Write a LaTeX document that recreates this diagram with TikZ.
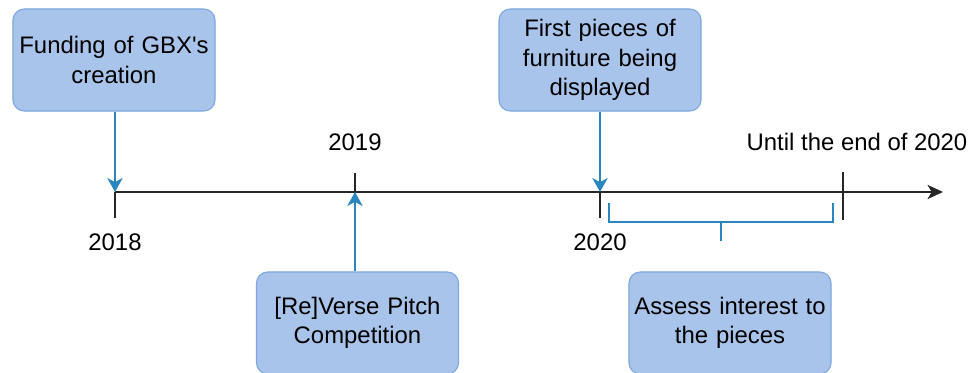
\documentclass[tikz,border=0pt]{standalone}
\usepackage{fontspec}
\setmainfont{Liberation Sans}
\usetikzlibrary{arrows.meta}
\definecolor{boxfill}{HTML}{A9C4EB}
\definecolor{boxline}{HTML}{7EA6E0}
\definecolor{linkblue}{HTML}{2A86BF}
\tikzset{
  event/.style={draw=boxline,fill=boxfill,line width=0.8pt,rounded corners=8pt,
    minimum width=5.05cm,minimum height=2.55cm,text width=4.9cm,align=center,
    font=\fontsize{17}{21}\selectfont,inner sep=0pt},
  link/.style={draw=linkblue,line width=1pt,-{Stealth[length=10pt,width=11pt,inset=3pt]}},
  year/.style={font=\fontsize{17}{21}\selectfont,inner sep=0pt},
  axis/.style={line width=1.4pt,black!85}
}
\begin{document}
\begin{tikzpicture}[x=0.025cm,y=-0.025cm]
\useasboundingbox (0,0) rectangle (973,373);
\coordinate (t18) at (115,192);
\coordinate (t19) at (355,192);
\coordinate (t20) at (600,192);
\coordinate (tend) at (843,192);
\draw[axis,-{Stealth[length=11pt,width=10pt,inset=3pt]}] (t18) -- (943,192);
\draw[axis] (t18) -- (115,218);
\draw[axis] (355,173) -- (355,210);
\draw[axis] (t20) -- (600,218);
\draw[axis] (843,172) -- (843,220);
\node[year] (y18) at (115,242) {2018};
\node[year] (y19) at (355,142) {2019};
\node[year] (y20) at (600,242) {2020};
\node[year] (yend) at (857,142) {Until the end of 2020};
\node[event] (fund) at (114,60) {Funding of GBX\textquotesingle s\\creation};
\node[event] (pitch) at (357.5,323) {[Re]Verse Pitch\\Competition};
\node[event] (first) at (600,60) {First pieces of\\furniture being\\displayed};
\node[event] (assess) at (730,323) {Assess interest to\\the pieces};
\draw[link] (fund.south -| t18) -- (t18);
\draw[link] (pitch.north -| t19) -- (t19);
\draw[link] (first.south -| t20) -- (t20);
\draw[draw=linkblue,line width=1pt] (609,203) -- (609,222) -- (833,222) -- (833,203);
\draw[draw=linkblue,line width=1pt] (721,222) -- (721,241);
\end{tikzpicture}
\end{document}
